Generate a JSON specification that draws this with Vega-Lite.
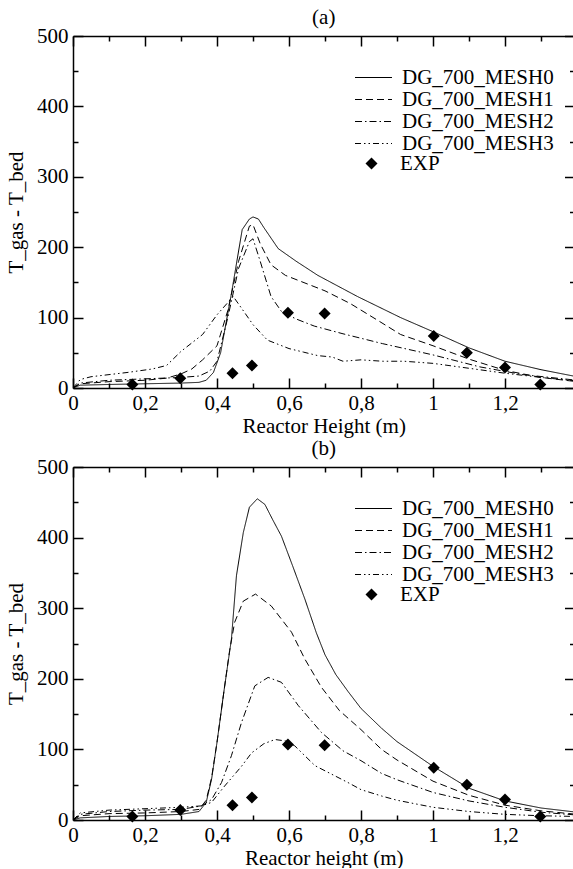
{
"$schema":"https://vega.github.io/schema/vega-lite/v6.json",
"padding":{"left":5,"top":7,"right":0,"bottom":0},
"datasets":{
"a":[
{"s":"DG_700_MESH0","x":0,"y":0},{"s":"DG_700_MESH0","x":0.02,"y":4},{"s":"DG_700_MESH0","x":0.1,"y":5},{"s":"DG_700_MESH0","x":0.2,"y":6},{"s":"DG_700_MESH0","x":0.3,"y":7},{"s":"DG_700_MESH0","x":0.35,"y":8},{"s":"DG_700_MESH0","x":0.37,"y":11},{"s":"DG_700_MESH0","x":0.39,"y":22},{"s":"DG_700_MESH0","x":0.41,"y":50},{"s":"DG_700_MESH0","x":0.44,"y":134},{"s":"DG_700_MESH0","x":0.47,"y":225},{"s":"DG_700_MESH0","x":0.49,"y":240},{"s":"DG_700_MESH0","x":0.5,"y":243},{"s":"DG_700_MESH0","x":0.515,"y":240},{"s":"DG_700_MESH0","x":0.53,"y":228},{"s":"DG_700_MESH0","x":0.57,"y":198},{"s":"DG_700_MESH0","x":0.62,"y":180},{"s":"DG_700_MESH0","x":0.68,"y":160},{"s":"DG_700_MESH0","x":0.79,"y":130},{"s":"DG_700_MESH0","x":0.91,"y":100},{"s":"DG_700_MESH0","x":1.0,"y":80},{"s":"DG_700_MESH0","x":1.1,"y":57},{"s":"DG_700_MESH0","x":1.2,"y":38},{"s":"DG_700_MESH0","x":1.3,"y":26},{"s":"DG_700_MESH0","x":1.4,"y":16},
{"s":"DG_700_MESH1","x":0,"y":0},{"s":"DG_700_MESH1","x":0.02,"y":6},{"s":"DG_700_MESH1","x":0.1,"y":9},{"s":"DG_700_MESH1","x":0.2,"y":11},{"s":"DG_700_MESH1","x":0.26,"y":14},{"s":"DG_700_MESH1","x":0.3,"y":20},{"s":"DG_700_MESH1","x":0.33,"y":27},{"s":"DG_700_MESH1","x":0.36,"y":40},{"s":"DG_700_MESH1","x":0.4,"y":60},{"s":"DG_700_MESH1","x":0.43,"y":110},{"s":"DG_700_MESH1","x":0.46,"y":180},{"s":"DG_700_MESH1","x":0.49,"y":230},{"s":"DG_700_MESH1","x":0.5,"y":232},{"s":"DG_700_MESH1","x":0.52,"y":205},{"s":"DG_700_MESH1","x":0.55,"y":175},{"s":"DG_700_MESH1","x":0.59,"y":160},{"s":"DG_700_MESH1","x":0.65,"y":148},{"s":"DG_700_MESH1","x":0.7,"y":138},{"s":"DG_700_MESH1","x":0.77,"y":120},{"s":"DG_700_MESH1","x":0.85,"y":95},{"s":"DG_700_MESH1","x":0.91,"y":76},{"s":"DG_700_MESH1","x":1.0,"y":60},{"s":"DG_700_MESH1","x":1.1,"y":41},{"s":"DG_700_MESH1","x":1.2,"y":25},{"s":"DG_700_MESH1","x":1.3,"y":15},{"s":"DG_700_MESH1","x":1.4,"y":9},
{"s":"DG_700_MESH2","x":0,"y":0},{"s":"DG_700_MESH2","x":0.02,"y":7},{"s":"DG_700_MESH2","x":0.1,"y":11},{"s":"DG_700_MESH2","x":0.2,"y":13},{"s":"DG_700_MESH2","x":0.3,"y":15},{"s":"DG_700_MESH2","x":0.35,"y":17},{"s":"DG_700_MESH2","x":0.38,"y":24},{"s":"DG_700_MESH2","x":0.4,"y":38},{"s":"DG_700_MESH2","x":0.43,"y":100},{"s":"DG_700_MESH2","x":0.46,"y":170},{"s":"DG_700_MESH2","x":0.49,"y":208},{"s":"DG_700_MESH2","x":0.5,"y":212},{"s":"DG_700_MESH2","x":0.52,"y":180},{"s":"DG_700_MESH2","x":0.55,"y":130},{"s":"DG_700_MESH2","x":0.58,"y":108},{"s":"DG_700_MESH2","x":0.62,"y":98},{"s":"DG_700_MESH2","x":0.67,"y":88},{"s":"DG_700_MESH2","x":0.75,"y":77},{"s":"DG_700_MESH2","x":0.86,"y":63},{"s":"DG_700_MESH2","x":1.0,"y":47},{"s":"DG_700_MESH2","x":1.13,"y":30},{"s":"DG_700_MESH2","x":1.25,"y":19},{"s":"DG_700_MESH2","x":1.4,"y":11},
{"s":"DG_700_MESH3","x":0,"y":0},{"s":"DG_700_MESH3","x":0.02,"y":12},{"s":"DG_700_MESH3","x":0.05,"y":16},{"s":"DG_700_MESH3","x":0.15,"y":22},{"s":"DG_700_MESH3","x":0.22,"y":27},{"s":"DG_700_MESH3","x":0.26,"y":32},{"s":"DG_700_MESH3","x":0.3,"y":52},{"s":"DG_700_MESH3","x":0.36,"y":76},{"s":"DG_700_MESH3","x":0.4,"y":104},{"s":"DG_700_MESH3","x":0.445,"y":130},{"s":"DG_700_MESH3","x":0.47,"y":112},{"s":"DG_700_MESH3","x":0.5,"y":90},{"s":"DG_700_MESH3","x":0.54,"y":68},{"s":"DG_700_MESH3","x":0.6,"y":56},{"s":"DG_700_MESH3","x":0.64,"y":51},{"s":"DG_700_MESH3","x":0.68,"y":46},{"s":"DG_700_MESH3","x":0.72,"y":44},{"s":"DG_700_MESH3","x":0.75,"y":38},{"s":"DG_700_MESH3","x":0.8,"y":40},{"s":"DG_700_MESH3","x":0.86,"y":38},{"s":"DG_700_MESH3","x":0.92,"y":38},{"s":"DG_700_MESH3","x":1.0,"y":35},{"s":"DG_700_MESH3","x":1.1,"y":28},{"s":"DG_700_MESH3","x":1.2,"y":21},{"s":"DG_700_MESH3","x":1.3,"y":15},{"s":"DG_700_MESH3","x":1.4,"y":10}
],
"b":[
{"s":"DG_700_MESH0","x":0,"y":0},{"s":"DG_700_MESH0","x":0.02,"y":3},{"s":"DG_700_MESH0","x":0.1,"y":5},{"s":"DG_700_MESH0","x":0.2,"y":6},{"s":"DG_700_MESH0","x":0.3,"y":8},{"s":"DG_700_MESH0","x":0.35,"y":12},{"s":"DG_700_MESH0","x":0.37,"y":25},{"s":"DG_700_MESH0","x":0.385,"y":58},{"s":"DG_700_MESH0","x":0.4,"y":110},{"s":"DG_700_MESH0","x":0.42,"y":185},{"s":"DG_700_MESH0","x":0.44,"y":256},{"s":"DG_700_MESH0","x":0.454,"y":346},{"s":"DG_700_MESH0","x":0.473,"y":407},{"s":"DG_700_MESH0","x":0.49,"y":443},{"s":"DG_700_MESH0","x":0.512,"y":455},{"s":"DG_700_MESH0","x":0.533,"y":447},{"s":"DG_700_MESH0","x":0.555,"y":425},{"s":"DG_700_MESH0","x":0.579,"y":402},{"s":"DG_700_MESH0","x":0.61,"y":360},{"s":"DG_700_MESH0","x":0.644,"y":313},{"s":"DG_700_MESH0","x":0.676,"y":265},{"s":"DG_700_MESH0","x":0.7,"y":234},{"s":"DG_700_MESH0","x":0.73,"y":206},{"s":"DG_700_MESH0","x":0.764,"y":182},{"s":"DG_700_MESH0","x":0.8,"y":158},{"s":"DG_700_MESH0","x":0.857,"y":130},{"s":"DG_700_MESH0","x":0.9,"y":111},{"s":"DG_700_MESH0","x":1.0,"y":76},{"s":"DG_700_MESH0","x":1.1,"y":45},{"s":"DG_700_MESH0","x":1.2,"y":27},{"s":"DG_700_MESH0","x":1.3,"y":17},{"s":"DG_700_MESH0","x":1.4,"y":11},
{"s":"DG_700_MESH1","x":0,"y":0},{"s":"DG_700_MESH1","x":0.02,"y":6},{"s":"DG_700_MESH1","x":0.1,"y":9},{"s":"DG_700_MESH1","x":0.2,"y":10},{"s":"DG_700_MESH1","x":0.3,"y":12},{"s":"DG_700_MESH1","x":0.35,"y":15},{"s":"DG_700_MESH1","x":0.37,"y":28},{"s":"DG_700_MESH1","x":0.385,"y":60},{"s":"DG_700_MESH1","x":0.4,"y":110},{"s":"DG_700_MESH1","x":0.42,"y":185},{"s":"DG_700_MESH1","x":0.435,"y":240},{"s":"DG_700_MESH1","x":0.449,"y":280},{"s":"DG_700_MESH1","x":0.473,"y":310},{"s":"DG_700_MESH1","x":0.507,"y":320},{"s":"DG_700_MESH1","x":0.551,"y":303},{"s":"DG_700_MESH1","x":0.607,"y":266},{"s":"DG_700_MESH1","x":0.644,"y":228},{"s":"DG_700_MESH1","x":0.69,"y":188},{"s":"DG_700_MESH1","x":0.74,"y":155},{"s":"DG_700_MESH1","x":0.8,"y":128},{"s":"DG_700_MESH1","x":0.857,"y":100},{"s":"DG_700_MESH1","x":0.9,"y":85},{"s":"DG_700_MESH1","x":1.0,"y":55},{"s":"DG_700_MESH1","x":1.1,"y":35},{"s":"DG_700_MESH1","x":1.2,"y":21},{"s":"DG_700_MESH1","x":1.3,"y":13},{"s":"DG_700_MESH1","x":1.4,"y":8},
{"s":"DG_700_MESH2","x":0,"y":0},{"s":"DG_700_MESH2","x":0.02,"y":8},{"s":"DG_700_MESH2","x":0.1,"y":12},{"s":"DG_700_MESH2","x":0.2,"y":14},{"s":"DG_700_MESH2","x":0.3,"y":15},{"s":"DG_700_MESH2","x":0.357,"y":20},{"s":"DG_700_MESH2","x":0.385,"y":29},{"s":"DG_700_MESH2","x":0.4125,"y":53},{"s":"DG_700_MESH2","x":0.44,"y":91},{"s":"DG_700_MESH2","x":0.468,"y":138},{"s":"DG_700_MESH2","x":0.505,"y":190},{"s":"DG_700_MESH2","x":0.542,"y":202},{"s":"DG_700_MESH2","x":0.579,"y":195},{"s":"DG_700_MESH2","x":0.626,"y":162},{"s":"DG_700_MESH2","x":0.69,"y":124},{"s":"DG_700_MESH2","x":0.75,"y":98},{"s":"DG_700_MESH2","x":0.8,"y":84},{"s":"DG_700_MESH2","x":0.857,"y":66},{"s":"DG_700_MESH2","x":0.9,"y":57},{"s":"DG_700_MESH2","x":1.0,"y":39},{"s":"DG_700_MESH2","x":1.1,"y":27},{"s":"DG_700_MESH2","x":1.2,"y":18},{"s":"DG_700_MESH2","x":1.3,"y":11},{"s":"DG_700_MESH2","x":1.4,"y":7},
{"s":"DG_700_MESH3","x":0,"y":0},{"s":"DG_700_MESH3","x":0.02,"y":10},{"s":"DG_700_MESH3","x":0.1,"y":14},{"s":"DG_700_MESH3","x":0.2,"y":16},{"s":"DG_700_MESH3","x":0.3,"y":18},{"s":"DG_700_MESH3","x":0.357,"y":20},{"s":"DG_700_MESH3","x":0.385,"y":25},{"s":"DG_700_MESH3","x":0.421,"y":48},{"s":"DG_700_MESH3","x":0.468,"y":76},{"s":"DG_700_MESH3","x":0.496,"y":95},{"s":"DG_700_MESH3","x":0.53,"y":108},{"s":"DG_700_MESH3","x":0.561,"y":114},{"s":"DG_700_MESH3","x":0.59,"y":112},{"s":"DG_700_MESH3","x":0.616,"y":105},{"s":"DG_700_MESH3","x":0.672,"y":77},{"s":"DG_700_MESH3","x":0.764,"y":53},{"s":"DG_700_MESH3","x":0.8,"y":43},{"s":"DG_700_MESH3","x":0.857,"y":34},{"s":"DG_700_MESH3","x":0.9,"y":28},{"s":"DG_700_MESH3","x":1.0,"y":18},{"s":"DG_700_MESH3","x":1.1,"y":12},{"s":"DG_700_MESH3","x":1.2,"y":8},{"s":"DG_700_MESH3","x":1.3,"y":6},{"s":"DG_700_MESH3","x":1.4,"y":5}
],
"exp":[
{"kind":"EXP","x":0.165,"y":5},{"kind":"EXP","x":0.298,"y":14},{"kind":"EXP","x":0.443,"y":21},{"kind":"EXP","x":0.497,"y":32},{"kind":"EXP","x":0.597,"y":107},{"kind":"EXP","x":0.699,"y":106},{"kind":"EXP","x":1.002,"y":74},{"kind":"EXP","x":1.094,"y":50},{"kind":"EXP","x":1.2,"y":29},{"kind":"EXP","x":1.298,"y":5}
]
},
"vconcat":[
{
"width":501.5,"height":352,
"title":{"text":"(a)","offset":-3},
"layer":[
{"data":{"name":"a"},"mark":{"type":"line","color":"black","strokeWidth":1,"clip":true},
"encoding":{
"x":{"field":"x","type":"quantitative","scale":{"domain":[0,1.393],"nice":false,"zero":false},"axis":{"orient":"bottom","values":[0,0.2,0.4,0.6,0.8,1,1.2],"labelExpr":"replace(format(datum.value,'~g'),'.',',')","tickSize":-10,"labelPadding":14,"domain":true,"title":"Reactor Height (m)","titlePadding":2}},
"y":{"field":"y","type":"quantitative","scale":{"domain":[0,500],"nice":false},"axis":{"orient":"left","values":[0,100,200,300,400,500],"tickSize":-10,"labelPadding":15,"domain":true,"title":"T_gas - T_bed","titlePadding":10}},
"strokeDash":{"field":"s","type":"nominal","scale":{"domain":["DG_700_MESH0","DG_700_MESH1","DG_700_MESH2","DG_700_MESH3"],"range":[[1,0],[7,4],[7,3,1.5,3],[6,3,1.5,3,1.5,3]]},
"legend":{"orient":"none","legendX":290,"legendY":31,"title":null,"symbolType":"M-2,0L2,0","symbolSize":342,"symbolStrokeWidth":1,"symbolStrokeColor":"black","symbolFillColor":"transparent","labelOffset":18,"rowPadding":0,"padding":0}}
}},
{"data":{"name":"exp"},"mark":{"type":"point","filled":true,"color":"black","size":144,"opacity":1},
"encoding":{
"x":{"field":"x","type":"quantitative","scale":{"domain":[0,1.393],"nice":false,"zero":false},"axis":{"orient":"bottom","values":[0.1,0.3,0.5,0.7,0.9,1.1,1.3],"labels":false,"tickSize":-5,"domain":false,"title":null}},
"y":{"field":"y","type":"quantitative","scale":{"domain":[0,500],"nice":false},"axis":{"orient":"left","values":[50,150,250,350,450],"labels":false,"tickSize":-5,"domain":false,"title":null}},
"shape":{"field":"kind","type":"nominal","scale":{"domain":["EXP"],"range":["diamond"]},
"legend":{"orient":"none","legendX":288,"legendY":117,"title":null,"symbolSize":144,"symbolFillColor":"black","symbolStrokeColor":"black","labelOffset":18,"padding":0}}
}},
{"data":{"name":"exp"},"mark":{"type":"point","opacity":0},
"encoding":{
"x":{"field":"x","type":"quantitative","scale":{"domain":[0,1.393],"nice":false,"zero":false},"axis":{"orient":"top","values":[0,0.2,0.4,0.6,0.8,1,1.2],"labels":false,"tickSize":-10,"domain":true,"title":null}},
"y":{"field":"y","type":"quantitative","scale":{"domain":[0,500],"nice":false},"axis":{"orient":"right","values":[0,100,200,300,400,500],"labels":false,"tickSize":-10,"domain":false,"title":null}}
}},
{"data":{"name":"exp"},"mark":{"type":"point","opacity":0},
"encoding":{
"x":{"field":"x","type":"quantitative","scale":{"domain":[0,1.393],"nice":false,"zero":false},"axis":{"orient":"top","values":[0.1,0.3,0.5,0.7,0.9,1.1,1.3],"labels":false,"tickSize":-5,"domain":false,"title":null}},
"y":{"field":"y","type":"quantitative","scale":{"domain":[0,500],"nice":false},"axis":{"orient":"right","values":[50,150,250,350,450],"labels":false,"tickSize":-5,"domain":false,"title":null}}
}}
],
"resolve":{"axis":{"x":"independent","y":"independent"}}
},
{
"width":501.5,"height":353,
"title":{"text":"(b)","offset":-3},
"layer":[
{"data":{"name":"b"},"mark":{"type":"line","color":"black","strokeWidth":1,"clip":true},
"encoding":{
"x":{"field":"x","type":"quantitative","scale":{"domain":[0,1.393],"nice":false,"zero":false},"axis":{"orient":"bottom","values":[0,0.2,0.4,0.6,0.8,1,1.2],"labelExpr":"replace(format(datum.value,'~g'),'.',',')","tickSize":-10,"labelPadding":14,"domain":true,"title":"Reactor height (m)","titlePadding":2}},
"y":{"field":"y","type":"quantitative","scale":{"domain":[0,500],"nice":false},"axis":{"orient":"left","values":[0,100,200,300,400,500],"tickSize":-10,"labelPadding":15,"domain":true,"title":"T_gas - T_bed","titlePadding":10}},
"strokeDash":{"field":"s","type":"nominal","scale":{"domain":["DG_700_MESH0","DG_700_MESH1","DG_700_MESH2","DG_700_MESH3"],"range":[[1,0],[7,4],[7,3,1.5,3],[6,3,1.5,3,1.5,3]]},
"legend":{"orient":"none","legendX":290,"legendY":31,"title":null,"symbolType":"M-2,0L2,0","symbolSize":342,"symbolStrokeWidth":1,"symbolStrokeColor":"black","symbolFillColor":"transparent","labelOffset":18,"rowPadding":0,"padding":0}}
}},
{"data":{"name":"exp"},"mark":{"type":"point","filled":true,"color":"black","size":144,"opacity":1},
"encoding":{
"x":{"field":"x","type":"quantitative","scale":{"domain":[0,1.393],"nice":false,"zero":false},"axis":{"orient":"bottom","values":[0.1,0.3,0.5,0.7,0.9,1.1,1.3],"labels":false,"tickSize":-5,"domain":false,"title":null}},
"y":{"field":"y","type":"quantitative","scale":{"domain":[0,500],"nice":false},"axis":{"orient":"left","values":[50,150,250,350,450],"labels":false,"tickSize":-5,"domain":false,"title":null}},
"shape":{"field":"kind","type":"nominal","scale":{"domain":["EXP"],"range":["diamond"]},
"legend":{"orient":"none","legendX":288,"legendY":117,"title":null,"symbolSize":144,"symbolFillColor":"black","symbolStrokeColor":"black","labelOffset":18,"padding":0}}
}},
{"data":{"name":"exp"},"mark":{"type":"point","opacity":0},
"encoding":{
"x":{"field":"x","type":"quantitative","scale":{"domain":[0,1.393],"nice":false,"zero":false},"axis":{"orient":"top","values":[0,0.2,0.4,0.6,0.8,1,1.2],"labels":false,"tickSize":-10,"domain":true,"title":null}},
"y":{"field":"y","type":"quantitative","scale":{"domain":[0,500],"nice":false},"axis":{"orient":"right","values":[0,100,200,300,400,500],"labels":false,"tickSize":-10,"domain":false,"title":null}}
}},
{"data":{"name":"exp"},"mark":{"type":"point","opacity":0},
"encoding":{
"x":{"field":"x","type":"quantitative","scale":{"domain":[0,1.393],"nice":false,"zero":false},"axis":{"orient":"top","values":[0.1,0.3,0.5,0.7,0.9,1.1,1.3],"labels":false,"tickSize":-5,"domain":false,"title":null}},
"y":{"field":"y","type":"quantitative","scale":{"domain":[0,500],"nice":false},"axis":{"orient":"right","values":[50,150,250,350,450],"labels":false,"tickSize":-5,"domain":false,"title":null}}
}}
],
"resolve":{"axis":{"x":"independent","y":"independent"}}
}
],
"spacing":2,
"resolve":{"legend":{"strokeDash":"independent","shape":"independent"},"scale":{"x":"independent","y":"independent","strokeDash":"independent","shape":"independent"}},
"config":{
"font":"Liberation Serif",
"view":{"stroke":null},
"title":{"font":"Liberation Serif","fontSize":21,"fontWeight":"normal","color":"black"},
"axis":{"grid":false,"labelFont":"Liberation Serif","labelFontSize":21,"labelColor":"black","labelFlush":false,"labelOverlap":false,"titleFont":"Liberation Serif","titleFontSize":21,"titleFontWeight":"normal","titleColor":"black","tickColor":"black","tickWidth":1.5,"domainColor":"black","domainWidth":1.5},
"legend":{"labelFont":"Liberation Serif","labelFontSize":21,"labelColor":"black","labelLimit":300}
}
}
